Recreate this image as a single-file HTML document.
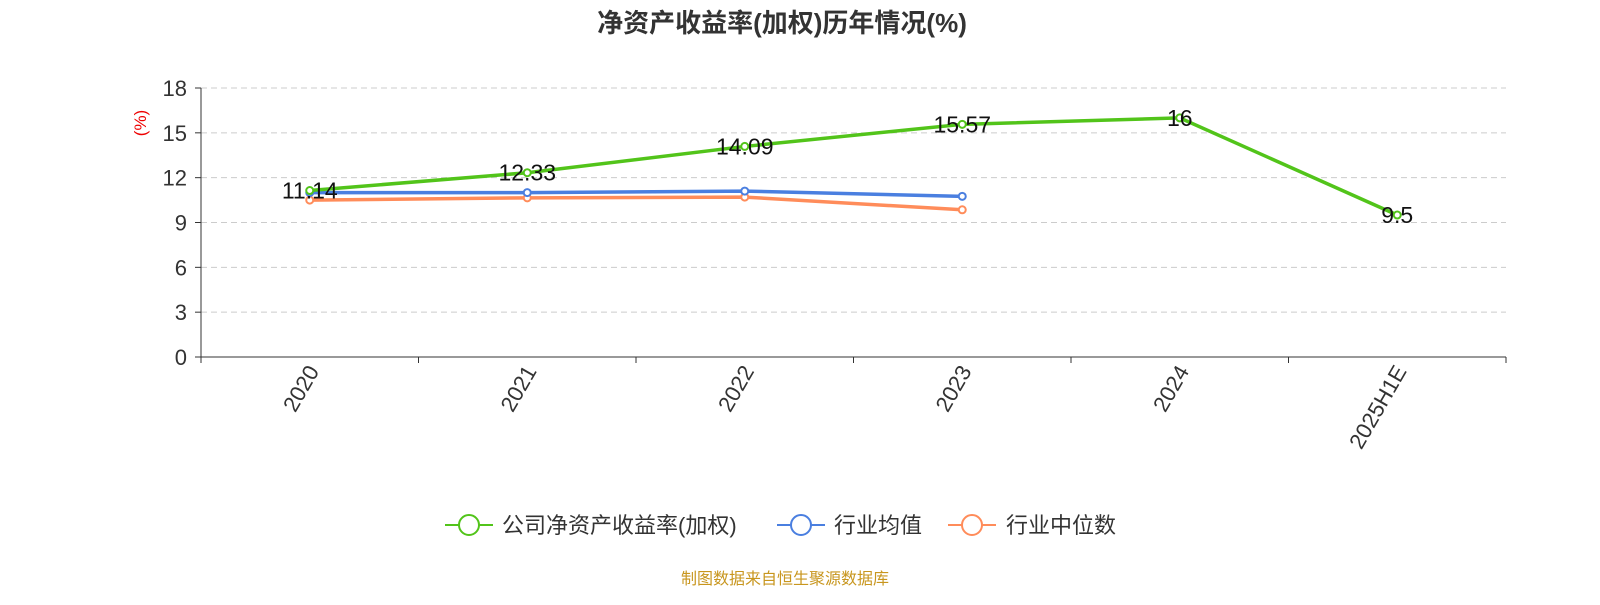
<!DOCTYPE html>
<html><head><meta charset="utf-8"><style>
body{margin:0;background:#fff;width:1600px;height:600px;overflow:hidden;font-family:"Liberation Sans","Noto Sans CJK SC",sans-serif}
</style></head><body>
<svg id="chart" width="1600" height="600" xmlns="http://www.w3.org/2000/svg" font-family="Liberation Sans, Noto Sans CJK SC, sans-serif">
<text x="782" y="32" text-anchor="middle" font-size="26" font-weight="bold" fill="#333">净资产收益率(加权)历年情况(%)</text>
<text transform="translate(146,123) rotate(-90)" text-anchor="middle" font-size="17" fill="#e00">(%)</text>
<g id="grid"></g><g id="axes"></g><g id="series"></g>
<g>
<g><line x1="445" y1="525" x2="493" y2="525" stroke="#52c41a" stroke-width="2"/><circle cx="469" cy="525" r="10" fill="#fff" stroke="#52c41a" stroke-width="2"/><text x="502" y="533" font-size="22" fill="#333">公司净资产收益率(加权)</text></g>
<g><line x1="777" y1="525" x2="825" y2="525" stroke="#4a7fe0" stroke-width="2"/><circle cx="801" cy="525" r="10" fill="#fff" stroke="#4a7fe0" stroke-width="2"/><text x="834" y="533" font-size="22" fill="#333">行业均值</text></g>
<g><line x1="948" y1="525" x2="996" y2="525" stroke="#ff8c5a" stroke-width="2"/><circle cx="972" cy="525" r="10" fill="#fff" stroke="#ff8c5a" stroke-width="2"/><text x="1006" y="533" font-size="22" fill="#333">行业中位数</text></g>
</g>
<text x="785" y="584" text-anchor="middle" font-size="16" fill="#c8961e">制图数据来自恒生聚源数据库</text>
</svg>
<script>
const categories=["2020","2021","2022","2023","2024","2025H1E"];
const companyValues=[11.14,12.33,14.09,15.57,16,9.5];
const industryAvg=[11.0,11.0,11.1,10.75];
const industryMedian=[10.5,10.65,10.7,9.85];
const yTicks=[0,3,6,9,12,15,18];
const NS="http://www.w3.org/2000/svg";
const x0=201,x1=1506,y0=357,y1=88,yMax=18;
const bw=(x1-x0)/categories.length;
const xs=i=>x0+bw*(i+0.5);
const ys=v=>y0-(v/yMax)*(y0-y1);
function mk(tag,attrs,parent){const e=document.createElementNS(NS,tag);for(const k in attrs)e.setAttribute(k,attrs[k]);parent.appendChild(e);return e;}
const grid=document.getElementById('grid'),axes=document.getElementById('axes'),ser=document.getElementById('series');
yTicks.forEach(t=>{
  if(t>0){const g=mk('line',{x1:x0,x2:x1,y1:ys(t),y2:ys(t),stroke:'#ccc','stroke-dasharray':'6,4'},grid);
  
  }
  mk('line',{x1:x0-6,x2:x0,y1:ys(t),y2:ys(t),stroke:'#333'},axes);
  const l=mk('text',{x:x0-14,y:ys(t)+8,'text-anchor':'end','font-size':22,fill:'#333'},axes);l.textContent=t;
  
  
});
mk('line',{x1:x0,x2:x0,y1:y1,y2:y0,stroke:'#333'},axes);
mk('line',{x1:x0,x2:x1,y1:y0,y2:y0,stroke:'#333'},axes);
for(let i=0;i<=categories.length;i++)mk('line',{x1:x0+bw*i,x2:x0+bw*i,y1:y0,y2:y0+6,stroke:'#333'},axes);
categories.forEach((c,i)=>{const t=mk('text',{transform:`translate(${xs(i)+10},${y0+14}) rotate(-60)`,'text-anchor':'end','font-size':22,fill:'#333'},axes);t.textContent=c;

});
function series(vals,color,name,labels){
  const p=mk('polyline',{points:vals.map((v,i)=>xs(i)+','+ys(v)).join(' '),fill:'none',stroke:color,'stroke-width':3.5},ser);
  
  
  vals.forEach((v,i)=>{const c=mk('circle',{cx:xs(i),cy:ys(v),r:3.5,fill:'#fff',stroke:color,'stroke-width':2},ser);
  
  
  if(labels){const t=mk('text',{x:xs(i),y:ys(v)+8,'text-anchor':'middle','font-size':23,fill:'#111'},ser);t.textContent=v;
  
  }});
}
series(industryMedian,'#ff8c5a','industry-median',false);
series(industryAvg,'#4a7fe0','industry-avg',false);
series(companyValues,'#52c41a','company-roe',true);
</script>
</body></html>
